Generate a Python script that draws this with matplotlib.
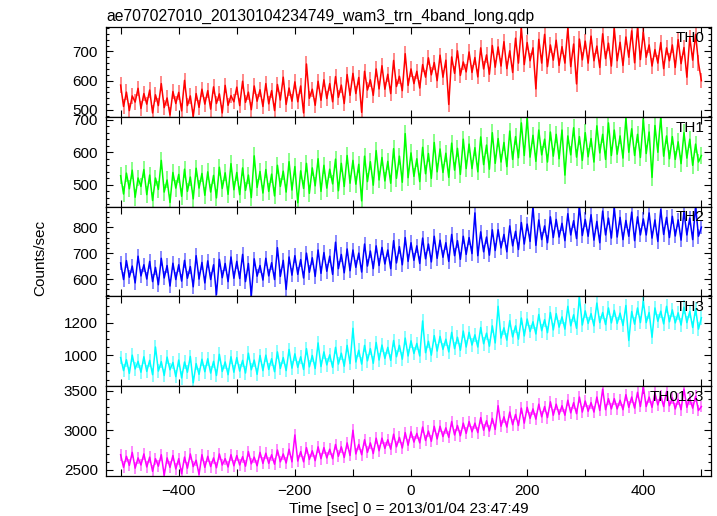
import numpy as np
import matplotlib
matplotlib.use('Agg')
import matplotlib.pyplot as plt
from matplotlib.ticker import MultipleLocator

plt.rcParams['font.family'] = ['Liberation Sans', 'DejaVu Sans']
plt.rcParams['font.size'] = 11

title = 'ae707027010_20130104234749_wam3_trn_4band_long.qdp'
x_label = 'Time [sec] 0 = 2013/01/04 23:47:49'
y_label = 'Counts/sec'

# time bins, 5 s apart (-500 ... 500)
time = np.arange(-500, 501, 5)

th0 = [585, 512, 561, 498, 548, 527, 574, 505, 556, 520,
       568, 490, 552, 515, 590, 508, 541, 483, 563, 522,
       560, 497, 601, 515, 548, 478, 556, 509, 571, 520,
       566, 503, 579, 522, 555, 490, 584, 516, 549, 528,
       578, 515, 598, 526, 561, 501, 582, 530, 569, 512,
       590, 521, 566, 498, 587, 534, 612, 519, 575, 530,
       596, 528, 582, 490, 657, 540, 571, 516, 598, 533,
       603, 539, 590, 528, 614, 543, 585, 522, 621, 550,
       625, 556, 611, 492, 632, 568, 603, 550, 640, 572,
       651, 571, 622, 556, 669, 580, 615, 566, 692, 584,
       640, 590, 632, 575, 655, 612, 678, 620, 662, 600,
       687, 612, 670, 519, 681, 625, 702, 618, 664, 630,
       698, 628, 679, 613, 712, 640, 688, 622, 720, 646,
       715, 650, 733, 641, 702, 628, 745, 660, 780, 655,
       730, 668, 712, 572, 741, 660, 758, 648, 722, 670,
       738, 652, 716, 660, 780, 648, 725, 589, 742, 671,
       735, 660, 752, 668, 718, 645, 760, 675, 728, 650,
       778, 668, 731, 652, 749, 680, 770, 661, 781, 672,
       765, 680, 722, 650, 706, 660, 730, 641, 712, 668,
       722, 645, 740, 658, 713, 612, 748, 670, 758, 660,
       600]

th1 = [528, 472, 536, 488, 545, 462, 521, 495, 547, 470,
       530, 452, 521, 486, 575, 478, 515, 446, 538, 490,
       532, 465, 548, 480, 524, 457, 551, 490, 535, 468,
       540, 478, 529, 460, 554, 489, 537, 471, 565, 485,
       538, 470, 552, 483, 530, 461, 589, 492, 541, 475,
       547, 480, 533, 466, 560, 495, 542, 478, 571, 484,
       556, 445, 543, 489, 566, 474, 552, 497, 580, 480,
       560, 490, 548, 503, 579, 482, 566, 495, 590, 505,
       575, 502, 563, 451, 588, 510, 571, 499, 605, 515,
       584, 512, 572, 505, 611, 520, 588, 508, 657, 522,
       598, 526, 580, 510, 615, 534, 596, 520, 630, 540,
       610, 538, 597, 523, 628, 545, 612, 532, 640, 550,
       625, 550, 614, 540, 647, 562, 622, 548, 660, 566,
       642, 570, 630, 556, 665, 578, 648, 583, 690, 590,
       705, 585, 652, 572, 668, 592, 640, 570, 662, 588,
       655, 580, 668, 530, 650, 592, 675, 585, 648, 575,
       660, 586, 642, 570, 681, 598, 655, 578, 690, 590,
       668, 594, 650, 582, 704, 600, 672, 590, 655, 584,
       700, 596, 662, 523, 682, 600, 708, 588, 650, 580,
       648, 578, 632, 565, 660, 582, 640, 560, 625, 570,
       590]

th2 = [662, 598, 671, 607, 650, 585, 688, 612, 655, 600,
       668, 590, 645, 578, 680, 604, 652, 573, 661, 598,
       655, 592, 672, 603, 648, 570, 690, 600, 664, 585,
       670, 598, 655, 540, 676, 605, 660, 590, 685, 603,
       668, 602, 695, 590, 660, 535, 678, 611, 652, 596,
       680, 612, 663, 598, 721, 610, 672, 560, 685, 615,
       690, 618, 675, 604, 700, 626, 682, 610, 712, 622,
       702, 630, 688, 618, 742, 640, 695, 624, 716, 632,
       712, 645, 700, 627, 735, 650, 708, 640, 728, 652,
       722, 658, 712, 640, 748, 662, 725, 655, 760, 668,
       740, 672, 728, 660, 758, 678, 735, 666, 765, 680,
       750, 684, 740, 668, 772, 690, 748, 676, 765, 695,
       760, 698, 855, 690, 782, 705, 762, 692, 790, 710,
       790, 720, 772, 705, 805, 728, 784, 714, 818, 735,
       812, 745, 880, 730, 828, 752, 805, 740, 840, 760,
       830, 762, 815, 748, 852, 770, 825, 756, 880, 768,
       830, 765, 848, 750, 822, 740, 862, 770, 835, 758,
       875, 762, 838, 752, 826, 765, 858, 748, 840, 770,
       832, 770, 855, 758, 828, 745, 868, 772, 838, 760,
       842, 766, 828, 750, 860, 770, 835, 752, 880, 765,
       800]

th3 = [985, 905, 972, 888, 1000, 915, 962, 895, 990, 900,
       968, 880, 1050, 902, 960, 875, 988, 910, 955, 868,
       970, 860, 958, 895, 992, 830, 948, 882, 975, 898,
       978, 890, 962, 875, 1005, 900, 958, 880, 990, 895,
       985, 902, 968, 890, 1012, 910, 970, 882, 998, 905,
       1000, 912, 978, 898, 1020, 918, 985, 905, 1035, 920,
       1008, 925, 990, 912, 1040, 928, 998, 918, 1075, 930,
       1020, 940, 1002, 925, 1048, 945, 1012, 932, 1060, 948,
       1165, 958, 1030, 945, 1060, 965, 1040, 950, 1078, 970,
       1062, 980, 1048, 968, 1090, 990, 1060, 975, 1105, 995,
       1088, 1010, 1072, 995, 1210, 1015, 1085, 1000, 1120, 1025,
       1115, 1035, 1098, 1020, 1140, 1040, 1110, 1030, 1148, 1050,
       1140, 1062, 1125, 1050, 1170, 1070, 1135, 1055, 1180, 1075,
       1300, 1105, 1168, 1092, 1212, 1112, 1180, 1098, 1228, 1118,
       1222, 1145, 1205, 1130, 1250, 1150, 1218, 1138, 1262, 1155,
       1255, 1172, 1235, 1160, 1300, 1180, 1248, 1165, 1355, 1185,
       1272, 1195, 1255, 1180, 1320, 1200, 1262, 1188, 1290, 1198,
       1275, 1195, 1258, 1182, 1305, 1090, 1268, 1190, 1290, 1200,
       1330, 1200, 1262, 1110, 1290, 1208, 1270, 1192, 1300, 1205,
       1278, 1198, 1260, 1185, 1295, 1200, 1268, 1170, 1285, 1160,
       1230]

th0123 = [2690, 2530, 2670, 2555, 2720, 2520, 2650, 2560, 2700, 2535,
          2660, 2480, 2640, 2545, 2690, 2430, 2650, 2530, 2680, 2510,
          2640, 2450, 2660, 2520, 2700, 2540, 2620, 2440, 2690, 2530,
          2670, 2540, 2650, 2525, 2700, 2560, 2640, 2535, 2690, 2550,
          2680, 2560, 2665, 2545, 2730, 2575, 2660, 2550, 2720, 2580,
          2710, 2580, 2690, 2570, 2750, 2600, 2700, 2585, 2760, 2600,
          2940, 2610, 2730, 2600, 2780, 2630, 2740, 2615, 2790, 2640,
          2780, 2650, 2760, 2640, 2820, 2670, 2790, 2655, 2840, 2680,
          3000, 2700, 2820, 2690, 2880, 2720, 2840, 2705, 2900, 2740,
          2900, 2770, 2880, 2760, 2950, 2790, 2910, 2775, 2970, 2810,
          2980, 2850, 2960, 2840, 3040, 2870, 2990, 2860, 3050, 2890,
          3050, 2920, 3030, 2910, 3110, 2940, 3060, 2930, 3090, 2960,
          3110, 2980, 3090, 2970, 3160, 3000, 3120, 2990, 3150, 3010,
          3310, 3050, 3170, 3040, 3230, 3070, 3200, 3060, 3280, 3090,
          3290, 3150, 3270, 3140, 3330, 3170, 3300, 3160, 3360, 3190,
          3330, 3200, 3310, 3190, 3380, 3220, 3350, 3210, 3420, 3230,
          3370, 3240, 3350, 3230, 3420, 3250, 3520, 3260, 3400, 3270,
          3400, 3270, 3380, 3260, 3450, 3290, 3420, 3280, 3480, 3300,
          3550, 3300, 3420, 3290, 3470, 3320, 3440, 3300, 3490, 3310,
          3410, 3270, 3390, 3260, 3520, 3290, 3400, 3280, 3430, 3250,
          3300]

series = [th0, th1, th2, th3, th0123]
names = ['TH0', 'TH1', 'TH2', 'TH3', 'TH0123']
errors = [26, 26, 28, 42, 75]
colors = ['#ff0000', '#00ff00', '#0000ff', '#00ffff', '#ff00ff']
y_limits = [(476, 782), (433, 708), (533, 879), (810, 1361), (2424, 3559)]
major_steps = [100, 100, 100, 200, 500]
minor_steps = [20, 20, 20, 50, 100]

fig, axes = plt.subplots(5, 1, figsize=(7.17, 5.16), dpi=100, sharex=True)
fig.subplots_adjust(left=0.148, right=0.992, top=0.947, bottom=0.078, hspace=0)

for i, ax in enumerate(axes):
    values = np.array(series[i])
    ax.errorbar(time, values, yerr=errors[i], fmt='none', ecolor=colors[i],
                alpha=0.5, elinewidth=1.3, capsize=0)
    ax.plot(time, values, color=colors[i], linewidth=1.1)
    ax.set_xlim(-525, 517)
    ax.set_ylim(*y_limits[i])
    ax.yaxis.set_major_locator(MultipleLocator(major_steps[i]))
    ax.yaxis.set_minor_locator(MultipleLocator(minor_steps[i]))
    ax.xaxis.set_major_locator(MultipleLocator(200))
    ax.xaxis.set_minor_locator(MultipleLocator(100))
    ax.tick_params(which='both', direction='in', top=True, right=True, labelsize=11)
    ax.tick_params(which='major', length=5, width=0.8, pad=6)
    ax.tick_params(which='minor', length=2.5, width=0.8)
    ax.tick_params(axis='x', which='minor', length=5)
    for spine in ax.spines.values():
        spine.set_linewidth(0.9)
    ax.text(0.988, 0.88, names[i], transform=ax.transAxes, ha='right', va='center', fontsize=11)

axes[-1].set_xlabel(x_label, fontsize=11, labelpad=3)
fig.text(0.149, 1 - 21 / 516, title, ha='left', va='baseline', fontsize=11.3)
fig.text(40 / 717, 0.5, y_label, rotation=90, ha='center', va='center', fontsize=11)

plt.savefig('out.png')
